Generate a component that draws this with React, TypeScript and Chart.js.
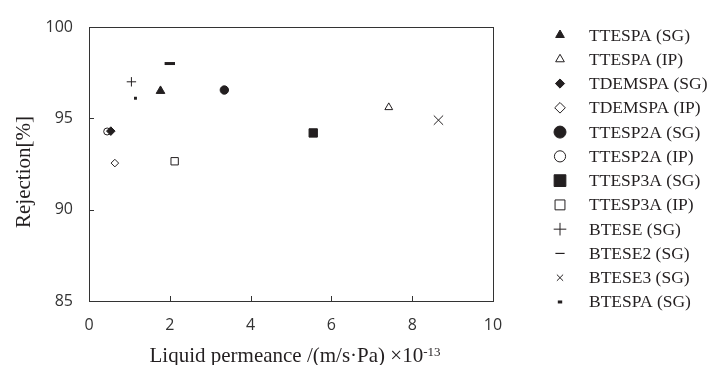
import { useEffect, useRef } from "react";
import { Chart, registerables } from "chart.js";
import { drawPoint } from "chart.js/helpers";

Chart.register(...registerables);

// Membrane series (SG = sol-gel, IP = interfacial polymerization)
const seriesNames = [
  "TTESPA (SG)",
  "TTESPA (IP)",
  "TDEMSPA (SG)",
  "TDEMSPA (IP)",
  "TTESP2A (SG)",
  "TTESP2A (IP)",
  "TTESP3A (SG)",
  "TTESP3A (IP)",
  "BTESE (SG)",
  "BTESE2 (SG)",
  "BTESE3 (SG)",
  "BTESPA (SG)",
];

// Liquid permeance ×10^-13 m/(s·Pa)
const permeance = [1.77, 7.42, 0.54, 0.64, 3.35, 0.45, 5.55, 2.12, 1.05, 2.0, 8.65, 1.15];
// Rejection [%]
const rejection = [96.5, 95.6, 94.3, 92.55, 96.55, 94.28, 94.2, 92.65, 97.0, 98.0, 94.9, 96.1];

const xTickValues = [0, 2, 4, 6, 8, 10];
const yTickValues = [85, 90, 95, 100];

const INK = "#231f20";
const AXIS = "#333333";

type Marker = {
  style: string;
  filled: boolean;
  r: number;
  bw: number;
  legendStyle: string;
  legendR: number;
  legendBw: number;
};

const markers: Marker[] = [
  { style: "triangle", filled: true, r: 5, bw: 1, legendStyle: "triangle", legendR: 5, legendBw: 1 },
  { style: "triangle", filled: false, r: 4.5, bw: 1, legendStyle: "triangle", legendR: 5, legendBw: 1 },
  { style: "rectRot", filled: true, r: 4.3, bw: 1, legendStyle: "rectRot", legendR: 4.6, legendBw: 1 },
  { style: "rectRot", filled: false, r: 3.8, bw: 1, legendStyle: "rectRot", legendR: 5.3, legendBw: 1 },
  { style: "circle", filled: true, r: 4.2, bw: 1, legendStyle: "circle", legendR: 6, legendBw: 1 },
  { style: "circle", filled: false, r: 3.5, bw: 1, legendStyle: "circle", legendR: 5.6, legendBw: 1 },
  { style: "rect", filled: true, r: 5.9, bw: 1, legendStyle: "rect", legendR: 8.3, legendBw: 1 },
  { style: "rect", filled: false, r: 5.2, bw: 1, legendStyle: "rect", legendR: 7, legendBw: 1 },
  { style: "cross", filled: false, r: 4.7, bw: 1, legendStyle: "cross", legendR: 6.3, legendBw: 1 },
  { style: "line", filled: false, r: 5.2, bw: 3, legendStyle: "line", legendR: 4.6, legendBw: 1.2 },
  { style: "crossRot", filled: false, r: 6.6, bw: 1, legendStyle: "crossRot", legendR: 4.4, legendBw: 1 },
  { style: "rect", filled: true, r: 2.1, bw: 0, legendStyle: "line", legendR: 2.2, legendBw: 3 },
];

// Frame, inward ticks, axis titles and the legend column
const decorations = {
  id: "decorations",
  afterDraw(chart: Chart) {
    const { ctx, chartArea } = chart;
    const { left, right, top, bottom } = chartArea;
    const xs = chart.scales.x;
    const ys = chart.scales.y;
    ctx.save();

    // frame
    ctx.strokeStyle = AXIS;
    ctx.lineWidth = 1;
    ctx.strokeRect(Math.round(left) + 0.5, Math.round(top) + 0.5, Math.round(right - left), Math.round(bottom - top));

    // inward tick marks
    ctx.beginPath();
    for (const v of xTickValues) {
      const px = Math.round(xs.getPixelForValue(v)) + 0.5;
      ctx.moveTo(px, bottom);
      ctx.lineTo(px, bottom - 5);
    }
    for (const v of yTickValues) {
      const py = Math.round(ys.getPixelForValue(v)) + 0.5;
      ctx.moveTo(left, py);
      ctx.lineTo(left + 5, py);
    }
    ctx.stroke();

    // x-axis title with superscript exponent
    ctx.fillStyle = INK;
    ctx.textBaseline = "alphabetic";
    ctx.textAlign = "left";
    const mainFont = '21px "Liberation Serif"';
    const supFont = '13px "Liberation Serif"';
    const mainText = "Liquid permeance /(m/s\u00b7Pa) \u00d710";
    const supText = "-13";
    ctx.font = mainFont;
    const mw = ctx.measureText(mainText).width;
    ctx.font = supFont;
    const sw = ctx.measureText(supText).width;
    const cx = (left + right) / 2 + 4;
    const x0 = cx - (mw + sw) / 2;
    ctx.font = mainFont;
    ctx.fillText(mainText, x0, 362);
    ctx.font = supFont;
    ctx.fillText(supText, x0 + mw, 356);

    // y-axis title
    ctx.save();
    ctx.translate(30, (top + bottom) / 2 + 8);
    ctx.rotate(-Math.PI / 2);
    ctx.font = '21px "Liberation Serif"';
    ctx.textAlign = "center";
    ctx.fillText("Rejection[%]", 0, 0);
    ctx.restore();

    // legend
    const rowTop = 35;
    const rowStep = 24.27;
    ctx.font = '17.5px "Liberation Serif"';
    ctx.textAlign = "left";
    seriesNames.forEach((name, i) => {
      const m = markers[i];
      const y = rowTop + i * rowStep;
      ctx.fillStyle = m.filled ? INK : "#ffffff";
      ctx.strokeStyle = INK;
      ctx.lineWidth = m.legendBw;
      drawPoint(ctx, { pointStyle: m.legendStyle as any, radius: m.legendR, rotation: 0, borderWidth: m.legendBw }, 560, y);
      ctx.fillStyle = INK;
      ctx.fillText(name, 589, y + 5.5);
    });

    ctx.restore();
  },
};

export default function App() {
  const canvasRef = useRef<HTMLCanvasElement | null>(null);

  useEffect(() => {
    const canvas = canvasRef.current;
    if (!canvas) return;

    const datasets = seriesNames.map((name, i) => {
      const m = markers[i];
      return {
        label: name,
        data: [{ x: permeance[i], y: rejection[i] }],
        pointStyle: m.style as any,
        pointRadius: m.r,
        pointHoverRadius: m.r,
        pointBackgroundColor: m.filled ? INK : "#ffffff",
        pointBorderColor: INK,
        pointBorderWidth: m.bw,
        showLine: false,
      };
    });

    const chart = new Chart(canvas, {
      type: "scatter",
      data: { datasets },
      options: {
        animation: false,
        responsive: false,
        maintainAspectRatio: false,
        layout: { padding: { top: 27, right: 220, left: 0, bottom: 0 } },
        plugins: {
          legend: { display: false },
          tooltip: { enabled: false },
        },
        scales: {
          x: {
            type: "linear",
            min: 0,
            max: 10,
            afterFit: (scale: any) => {
              scale.height = 64;
            },
            afterBuildTicks: (scale: any) => {
              scale.ticks = xTickValues.map((v) => ({ value: v }));
            },
            grid: { display: false, drawTicks: false },
            border: { display: false },
            ticks: {
              padding: 15,
              color: "#333333",
              font: { family: '"Open Sans"', size: 16 },
              maxRotation: 0,
            },
          },
          y: {
            type: "linear",
            min: 85,
            max: 100,
            afterFit: (scale: any) => {
              scale.width = 89;
            },
            afterBuildTicks: (scale: any) => {
              scale.ticks = yTickValues.map((v) => ({ value: v }));
            },
            grid: { display: false, drawTicks: false },
            border: { display: false },
            ticks: {
              padding: 16,
              color: "#333333",
              font: { family: '"Open Sans"', size: 16 },
            },
          },
        },
      },
      plugins: [decorations],
    });

    return () => chart.destroy();
  }, []);

  return (
    <div style={{ position: "fixed", left: 0, top: 0, width: 713, height: 365, background: "#ffffff" }}>
      <canvas ref={canvasRef} width={713} height={365} style={{ width: 713, height: 365, display: "block" }} />
    </div>
  );
}
